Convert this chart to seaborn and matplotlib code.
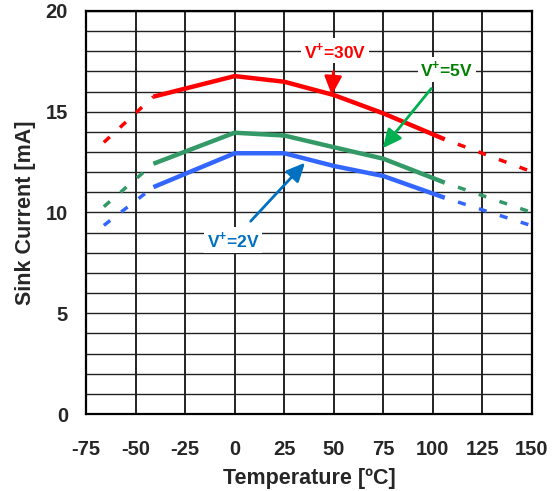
import matplotlib
matplotlib.use("Agg")
import matplotlib.pyplot as plt
import seaborn as sns
import numpy as np
import pandas as pd

# ---------------- data ----------------
temp_solid = [-41, 0, 25, 50, 75, 106]
sink_30v = [15.75, 16.77, 16.49, 15.83, 14.92, 13.63]
sink_5v = [12.42, 13.96, 13.82, 13.24, 12.67, 11.48]
sink_2v = [11.26, 12.94, 12.94, 12.31, 11.81, 10.73]

temp_dash_left = [-66, -41]
dash_left_30v = [13.48, 15.75]
dash_left_5v = [10.29, 12.42]
dash_left_2v = [9.36, 11.26]

temp_dash_right = [106, 150]
dash_right_30v = [13.63, 12.02]
dash_right_5v = [11.48, 10.0]
dash_right_2v = [10.73, 9.34]

series_names = ["V+=30V", "V+=5V", "V+=2V"]
x_ticks = [-75, -50, -25, 0, 25, 50, 75, 100, 125, 150]
y_ticks = [0, 5, 10, 15, 20]

line_colors = {"V+=30V": "#FF0000", "V+=5V": "#339966", "V+=2V": "#3366FF"}

# ---------------- style ----------------
sns.set_style("white")
plt.rcParams["font.family"] = ["Liberation Sans", "DejaVu Sans"]
plt.rcParams["mathtext.fontset"] = "custom"
plt.rcParams["mathtext.rm"] = "Liberation Sans:bold"
plt.rcParams["mathtext.bf"] = "Liberation Sans:bold"
plt.rcParams["lines.scale_dashes"] = False

fig = plt.figure(figsize=(5.56, 4.91), dpi=100)
ax = fig.add_axes([86 / 556, 1 - 414 / 491, 446 / 556, 403 / 491])

solid_df = pd.DataFrame({
    "Temperature": temp_solid * 3,
    "Sink": sink_30v + sink_5v + sink_2v,
    "Series": [s for s in series_names for _ in temp_solid],
})
sns.lineplot(data=solid_df, x="Temperature", y="Sink", hue="Series",
             palette=line_colors, linewidth=3.2, legend=False, ax=ax,
             solid_capstyle="butt", zorder=5)

dash_left = {"V+=30V": dash_left_30v, "V+=5V": dash_left_5v, "V+=2V": dash_left_2v}
dash_right = {"V+=30V": dash_right_30v, "V+=5V": dash_right_5v, "V+=2V": dash_right_2v}
for name in series_names:
    sns.lineplot(x=temp_dash_left, y=dash_left[name], color=line_colors[name],
                 linewidth=2.5, linestyle=(0, (5.8, 10.0)), ax=ax, zorder=4,
                 dash_capstyle="butt")
    sns.lineplot(x=temp_dash_right, y=dash_right[name], color=line_colors[name],
                 linewidth=2.5, linestyle=(5.8, (5.8, 10.0)), ax=ax, zorder=4,
                 dash_capstyle="butt")

ax.set_xlim(-75, 150)
ax.set_ylim(0, 20)
ax.set_xticks(x_ticks)
ax.set_xticklabels([str(v) for v in x_ticks])
ax.set_yticks(y_ticks)
ax.set_yticks(np.arange(0, 21, 1), minor=True)
ax.set_yticklabels([str(v) for v in y_ticks])

ax.grid(True, which="major", axis="x", color="#222222", linewidth=1.4, zorder=1)
ax.grid(True, which="both", axis="y", color="#222222", linewidth=1.0, zorder=1)
ax.set_axisbelow(True)

ax.tick_params(axis="both", which="both", length=0)
ax.tick_params(axis="x", pad=19, labelsize=14.5)
ax.tick_params(axis="y", pad=13, labelsize=14.5)
for lbl in ax.get_xticklabels() + ax.get_yticklabels():
    lbl.set_fontweight("bold")

for sp in ax.spines.values():
    sp.set_color("black")
    sp.set_linewidth(1.6)
    sp.set_visible(True)

ax.set_xlabel("Temperature [ºC]", fontsize=15.5, fontweight="bold")
ax.set_ylabel("Sink Current [mA]", fontsize=15.5, fontweight="bold")
ax.xaxis.set_label_coords(0.5, -0.135)
ax.yaxis.set_label_coords(-0.113, 0.5)

box = dict(boxstyle="square,pad=0.15", fc="white", ec="none")
arrow_style = "-|>,head_length=0.9,head_width=0.42"
ax.annotate("V$^{\\mathbf{+}}$=30V", xy=(49, 15.83), xytext=(50.6, 18.03),
            color="#FF0000", fontsize=12.5, fontweight="bold", ha="center", va="center",
            bbox=box, zorder=10,
            arrowprops=dict(arrowstyle=arrow_style,
                            color="#FF0000", lw=2.0, shrinkA=6, shrinkB=0))
ax.annotate("V$^{\\mathbf{+}}$=5V", xy=(74.7, 13.19), xytext=(107, 17.1),
            color="#008000", fontsize=12.5, fontweight="bold", ha="center", va="center",
            bbox=box, zorder=10,
            arrowprops=dict(arrowstyle=arrow_style,
                            color="#00B050", lw=2.0, shrinkA=6, shrinkB=0))
ax.annotate("V$^{\\mathbf{+}}$=2V", xy=(35.5, 12.47), xytext=(-0.7, 8.64),
            color="#0070C0", fontsize=12.5, fontweight="bold", ha="center", va="center",
            bbox=box, zorder=10,
            arrowprops=dict(arrowstyle=arrow_style,
                            color="#0070C0", lw=2.0, shrinkA=6, shrinkB=0))

fig.savefig("out.png", dpi=100)
